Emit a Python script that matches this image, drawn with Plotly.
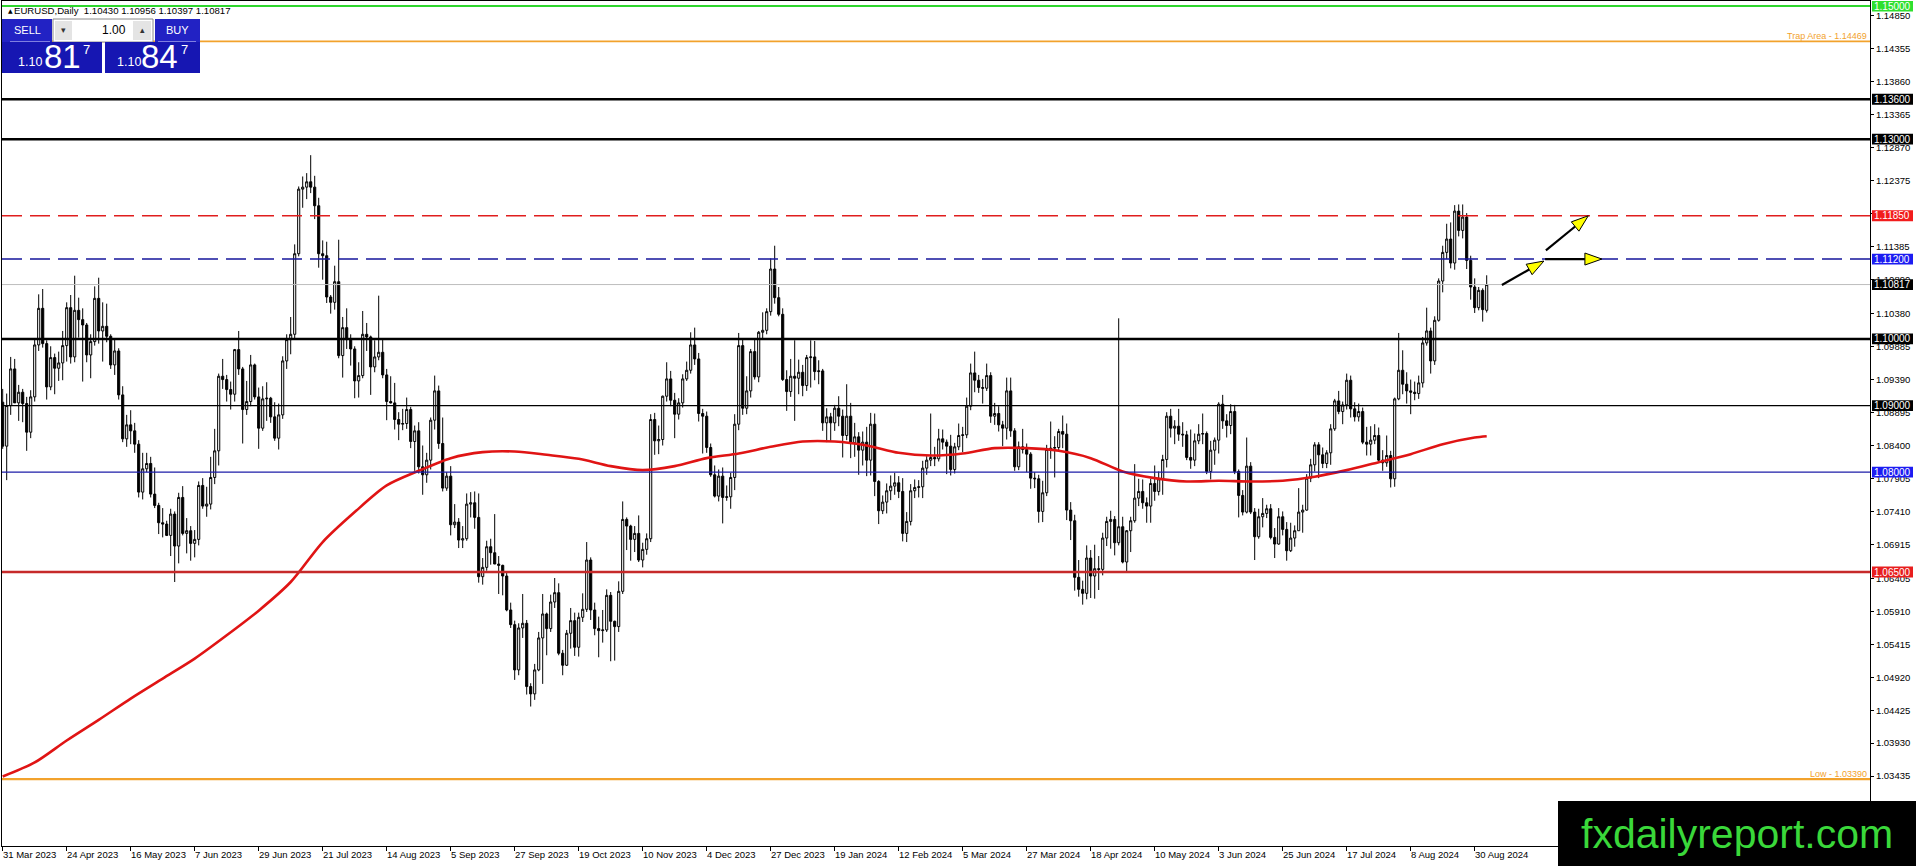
import plotly.graph_objects as go

# ---------------- data (prices in pips above 1.0000) ----------------
opens = [
    905, 839, 900, 955, 904, 920, 903, 860, 913, 991,
    1046, 993, 928, 972, 956, 964, 990, 1047, 973, 1043,
    1029, 1021, 976, 996, 1061, 1012, 1019, 1004, 961, 982,
    916, 850, 871, 862, 842, 770, 805, 813, 767, 750,
    724, 722, 705, 737, 689, 762, 708, 712, 693, 699,
    780, 749, 752, 792, 832, 944, 939, 924, 917, 984,
    955, 894, 906, 961, 913, 866, 910, 911, 883, 851,
    886, 967, 999, 1007, 1128, 1225, 1228, 1236, 1228, 1200,
    1128, 1125, 1063, 1055, 1086, 975, 1017, 999, 985, 937,
    945, 1007, 1003, 958, 973, 980, 946, 906, 904, 879,
    872, 873, 894, 846, 862, 808, 796, 818, 878, 922,
    843, 776, 794, 721, 725, 698, 700, 752, 754, 732,
    643, 657, 688, 679, 662, 660, 644, 593, 571, 503,
    566, 573, 478, 467, 503, 551, 587, 565, 605, 619,
    528, 510, 558, 577, 537, 582, 594, 668, 593, 565,
    562, 563, 615, 576, 568, 621, 729, 719, 699, 708,
    668, 684, 700, 879, 847, 849, 914, 940, 908, 887,
    904, 940, 953, 991, 970, 888, 884, 837, 796, 764,
    794, 762, 763, 792, 872, 990, 896, 922, 981, 943,
    1010, 1013, 1041, 1105, 1062, 1037, 939, 921, 944, 941,
    950, 930, 972, 973, 951, 952, 874, 883, 874, 896,
    884, 855, 884, 844, 853, 833, 845, 818, 872, 786,
    742, 755, 772, 779, 784, 771, 708, 726, 772, 777,
    778, 806, 818, 822, 820, 850, 845, 839, 804, 838,
    855, 856, 899, 949, 938, 927, 926, 945, 884, 888,
    871, 866, 922, 862, 808, 838, 834, 827, 791, 790,
    741, 769, 834, 836, 837, 861, 857, 743, 727, 642,
    624, 618, 671, 644, 655, 654, 701, 726, 729, 694,
    718, 665, 712, 727, 761, 771, 754, 749, 783, 771,
    790, 819, 884, 866, 869, 857, 856, 822, 818, 847,
    857, 858, 801, 833, 848, 902, 877, 870, 891, 801,
    765, 740, 809, 740, 703, 733, 738, 745, 702, 692,
    733, 714, 682, 701, 712, 740, 743, 791, 811, 841,
    826, 813, 829, 865, 907, 891, 901, 938, 895, 883,
    891, 845, 842, 848, 855, 818, 814, 825, 790, 910,
    953, 932, 922, 920, 918, 934, 994, 1012, 967, 1028,
    1087, 1130, 1150, 1114, 1192, 1163, 1183, 1118, 1078, 1047,
    1073, 1043.0,
]
highs = [
    925, 918, 973, 970, 931, 925, 913, 923, 999, 1067,
    1075, 998, 989, 978, 981, 1012, 1055, 1066, 1095, 1062,
    1046, 1024, 1007, 1079, 1092, 1055, 1053, 1007, 1000, 986,
    929, 886, 893, 874, 848, 829, 829, 823, 807, 754,
    746, 727, 745, 741, 769, 779, 731, 719, 713, 786,
    791, 778, 823, 865, 948, 970, 946, 936, 985, 1012,
    958, 937, 976, 963, 927, 929, 935, 913, 905, 903,
    974, 1007, 1033, 1142, 1229, 1244, 1249, 1276, 1245, 1212,
    1148, 1146, 1066, 1110, 1149, 1033, 1046, 1007, 989, 965,
    1042, 1024, 1005, 998, 1065, 1001, 955, 944, 934, 890,
    895, 912, 898, 870, 875, 840, 829, 882, 945, 930,
    882, 800, 809, 752, 731, 719, 768, 770, 771, 768,
    671, 697, 700, 737, 674, 661, 650, 604, 577, 573,
    617, 578, 483, 512, 560, 617, 589, 616, 641, 633,
    533, 563, 596, 589, 589, 618, 695, 672, 604, 583,
    593, 624, 620, 577, 636, 756, 732, 721, 719, 735,
    694, 708, 887, 889, 870, 915, 965, 952, 919, 911,
    947, 966, 1010, 1017, 979, 895, 891, 843, 810, 804,
    807, 780, 799, 887, 1009, 1001, 944, 985, 1001, 1012,
    1040, 1046, 1121, 1140, 1078, 1046, 953, 970, 998, 969,
    961, 976, 998, 997, 968, 955, 896, 889, 901, 914,
    894, 932, 904, 874, 860, 861, 868, 889, 888, 788,
    765, 783, 795, 799, 794, 791, 740, 782, 789, 788,
    817, 824, 888, 838, 865, 864, 849, 856, 844, 873,
    868, 912, 963, 981, 946, 940, 963, 950, 904, 899,
    877, 942, 942, 866, 846, 865, 843, 830, 800, 796,
    787, 841, 876, 854, 865, 885, 873, 755, 736, 668,
    637, 690, 683, 691, 674, 709, 733, 742, 734, 1031,
    733, 713, 733, 812, 790, 789, 762, 790, 810, 801,
    826, 890, 895, 878, 895, 875, 862, 864, 858, 872,
    888, 861, 847, 852, 905, 916, 887, 902, 901, 804,
    773, 852, 815, 746, 745, 761, 751, 752, 716, 746,
    741, 725, 724, 720, 776, 751, 797, 820, 845, 845,
    837, 833, 872, 910, 922, 906, 948, 945, 905, 903,
    897, 868, 869, 872, 867, 833, 855, 832, 912, 1009,
    983, 950, 939, 936, 945, 1003, 1047, 1017, 1034, 1091,
    1140, 1173, 1175, 1201, 1202, 1202, 1189, 1125, 1091, 1078,
    1076, 1095.6,
]
lows = [
    835, 788, 886, 906, 877, 875, 832, 851, 906, 982,
    987, 909, 923, 917, 937, 938, 966, 963, 965, 1002,
    936, 965, 941, 990, 993, 966, 995, 955, 946, 909,
    845, 838, 842, 829, 762, 759, 800, 762, 746, 707,
    702, 704, 674, 635, 663, 705, 678, 667, 672, 690,
    745, 733, 744, 782, 810, 925, 906, 894, 906, 946,
    843, 886, 899, 909, 835, 862, 877, 874, 847, 834,
    880, 955, 977, 1000, 1124, 1197, 1210, 1219, 1180, 1107,
    1089, 1054, 1038, 1044, 971, 942, 985, 960, 911, 912,
    941, 982, 916, 950, 968, 941, 878, 903, 864, 848,
    863, 865, 836, 802, 798, 766, 784, 804, 864, 835,
    771, 772, 705, 716, 686, 686, 697, 732, 715, 634,
    631, 652, 661, 662, 617, 615, 591, 566, 488, 495,
    551, 466, 448, 458, 501, 482, 525, 560, 596, 525,
    495, 509, 535, 524, 523, 575, 590, 578, 555, 522,
    544, 560, 516, 517, 560, 617, 683, 667, 680, 665,
    657, 676, 695, 826, 827, 840, 906, 899, 851, 879,
    897, 937, 948, 961, 876, 828, 829, 793, 762, 756,
    723, 757, 745, 773, 863, 886, 887, 912, 939, 935,
    1000, 1007, 1035, 1053, 1034, 937, 892, 913, 877, 917,
    914, 922, 927, 938, 932, 862, 845, 847, 862, 869,
    822, 848, 821, 823, 796, 810, 794, 795, 764, 722,
    737, 738, 758, 766, 761, 696, 695, 720, 761, 762,
    761, 796, 809, 809, 816, 834, 797, 795, 798, 833,
    830, 851, 893, 920, 919, 903, 922, 874, 871, 861,
    839, 849, 853, 802, 803, 828, 800, 775, 776, 724,
    725, 764, 820, 792, 833, 836, 728, 698, 622, 613,
    601, 609, 611, 610, 623, 645, 689, 685, 675, 690,
    663, 649, 680, 724, 749, 745, 724, 724, 757, 765,
    766, 807, 852, 842, 847, 838, 818, 805, 809, 842,
    842, 797, 789, 811, 828, 865, 852, 857, 797, 732,
    735, 738, 737, 668, 700, 717, 731, 699, 671, 691,
    705, 667, 680, 688, 712, 709, 742, 785, 801, 791,
    806, 806, 811, 862, 887, 872, 894, 882, 876, 876,
    842, 825, 825, 842, 815, 802, 808, 777, 778, 908,
    917, 903, 887, 908, 910, 927, 990, 948, 961, 1026,
    1070, 1120, 1106, 1104, 1154, 1151, 1105, 1059, 1039, 1043,
    1026, 1039.7,
]
closes = [
    839, 900, 955, 904, 920, 903, 860, 913, 991, 1046,
    993, 928, 972, 956, 964, 990, 1047, 973, 1043, 1029,
    1021, 976, 996, 1061, 1012, 1019, 1004, 961, 982, 916,
    850, 871, 862, 842, 770, 805, 813, 767, 750, 724,
    722, 705, 737, 689, 762, 708, 712, 693, 699, 780,
    749, 752, 792, 832, 944, 939, 924, 917, 984, 955,
    894, 906, 961, 913, 866, 910, 911, 883, 851, 886,
    967, 999, 1007, 1128, 1225, 1228, 1236, 1228, 1200, 1128,
    1125, 1063, 1055, 1086, 975, 1017, 999, 985, 937, 945,
    1007, 1003, 958, 973, 980, 946, 906, 904, 879, 872,
    873, 894, 846, 862, 808, 796, 818, 878, 922, 843,
    776, 794, 721, 725, 698, 700, 752, 754, 732, 643,
    657, 688, 679, 662, 660, 644, 593, 571, 503, 566,
    573, 478, 467, 503, 551, 587, 565, 605, 619, 528,
    510, 558, 577, 537, 582, 594, 668, 593, 565, 562,
    563, 615, 576, 568, 621, 729, 719, 699, 708, 668,
    684, 700, 879, 847, 849, 914, 940, 908, 887, 904,
    940, 953, 991, 970, 888, 884, 837, 796, 764, 794,
    762, 763, 792, 872, 990, 896, 922, 981, 943, 1010,
    1013, 1041, 1105, 1062, 1037, 939, 921, 944, 941, 950,
    930, 972, 973, 951, 952, 874, 883, 874, 896, 884,
    855, 884, 844, 853, 833, 845, 818, 872, 786, 742,
    755, 772, 779, 784, 771, 708, 726, 772, 777, 778,
    806, 818, 822, 820, 850, 845, 839, 804, 838, 855,
    856, 899, 949, 938, 927, 926, 945, 884, 888, 871,
    866, 922, 862, 808, 838, 834, 827, 791, 790, 741,
    769, 834, 836, 837, 861, 857, 743, 727, 642, 624,
    618, 671, 644, 655, 654, 701, 726, 729, 694, 718,
    665, 712, 727, 761, 771, 754, 749, 783, 771, 790,
    819, 884, 866, 869, 857, 856, 822, 818, 847, 857,
    858, 801, 833, 848, 902, 877, 870, 891, 801, 765,
    740, 809, 740, 703, 733, 738, 745, 702, 692, 733,
    714, 682, 701, 712, 740, 743, 791, 811, 841, 826,
    813, 829, 865, 907, 891, 901, 938, 895, 883, 891,
    845, 842, 848, 855, 818, 814, 825, 790, 910, 953,
    932, 922, 920, 918, 934, 994, 1012, 967, 1028, 1087,
    1130, 1150, 1114, 1192, 1163, 1183, 1118, 1078, 1047, 1073,
    1044, 1081.7,
]

# 200-day moving average (bar index, price)
ma_index = [0, 8, 16, 24, 32, 40, 48, 56, 64, 72, 80, 88, 96, 104, 112, 120,
            128, 136, 144, 152, 160, 168, 176, 184, 192, 200, 208, 216, 224,
            232, 240, 248, 256, 264, 272, 280, 288, 296, 304, 312, 320, 328,
            336, 344, 352, 360, 368, 371]
ma_values = [1.0343, 1.0364, 1.0397, 1.0428, 1.0460, 1.0490, 1.0520, 1.0555,
             1.0592, 1.0635, 1.0695, 1.0740, 1.0780, 1.0802, 1.0821, 1.0830,
             1.0831, 1.0826, 1.0820, 1.0809, 1.0803, 1.0809, 1.0821, 1.0828,
             1.0838, 1.0846, 1.0846, 1.0840, 1.0829, 1.0825, 1.0828, 1.0836,
             1.0836, 1.0832, 1.0821, 1.0801, 1.0791, 1.0786, 1.0787, 1.0786,
             1.0787, 1.0793, 1.0803, 1.0815, 1.0827, 1.0842, 1.0852, 1.0854]

date_ticks = [0, 16, 32, 48, 64, 80, 96, 112, 128, 144, 160, 176, 192, 208,
              224, 240, 256, 272, 288, 304, 320, 336, 352, 368]
date_labels = ["31 Mar 2023", "24 Apr 2023", "16 May 2023", "7 Jun 2023",
               "29 Jun 2023", "21 Jul 2023", "14 Aug 2023", "5 Sep 2023",
               "27 Sep 2023", "19 Oct 2023", "10 Nov 2023", "4 Dec 2023",
               "27 Dec 2023", "19 Jan 2024", "12 Feb 2024", "5 Mar 2024",
               "27 Mar 2024", "18 Apr 2024", "10 May 2024", "3 Jun 2024",
               "25 Jun 2024", "17 Jul 2024", "8 Aug 2024", "30 Aug 2024"]

price_ticks = [1.14850, 1.14355, 1.13860, 1.13365, 1.12870, 1.12375, 1.11880,
               1.11385, 1.10890, 1.10380, 1.09885, 1.09390, 1.08895, 1.08400,
               1.07905, 1.07410, 1.06915, 1.06405, 1.05910, 1.05415, 1.04920,
               1.04425, 1.03930, 1.03435]
# tick labels fully covered by level boxes in the reference are left blank
hidden_ticks = [1.11880]

level_prices = [1.15000, 1.14469, 1.13600, 1.13000, 1.11850, 1.11200, 1.10817,
                1.10000, 1.09000, 1.08000, 1.06500, 1.03390]
level_colors = ["#2ed62e", "#f2a22c", "#000000", "#000000", "#e01e1e", "#16169c",
                "#bdbdbd", "#000000", "#000000", "#1c1ca8", "#c62a2a", "#f2a22c"]
level_widths = [2.2, 1.8, 2.4, 2.4, 1.5, 1.5, 1.0, 2.4, 1.3, 1.3, 2.6, 2.2]
level_dashes = ["solid", "solid", "solid", "solid", "20px,8px", "20px,8px",
                "solid", "solid", "solid", "solid", "solid", "solid"]
box_colors = ["#2ee02e", None, "#000000", "#000000", "#f21c1c", "#1c1cf2",
              "#000000", "#000000", "#000000", "#1c1cf2", "#e81e1e", None]
level_notes = [None, "Trap Area - 1.14469", None, None, None, None, None, None,
               None, None, None, "Low - 1.03390"]

# arrows drawn on the chart: start (bar, price) -> tip (bar, price)
arrow_x0 = [374.8, 385.8, 385.6]
arrow_y0 = [1.1081, 1.1133, 1.1120]
arrow_x1 = [385.3, 396.4, 399.8]
arrow_y1 = [1.1117, 1.1185, 1.1120]

header_text = "EURUSD,Daily  1.10430 1.10956 1.10397 1.10817"

# ---------------- layout geometry ----------------
W, H = 1916, 866
PLOT_L, PLOT_R, PLOT_T, PLOT_B = 2, 1870, 1, 846
X_RANGE = [-0.175, 466.825]
Y_RANGE = [1.023856, 1.150751]
PX_BAR = (PLOT_R - PLOT_L) / (X_RANGE[1] - X_RANGE[0])
PX_PRICE = (PLOT_B - PLOT_T) / (Y_RANGE[1] - Y_RANGE[0])
FONT = "Liberation Sans"


def fx(px):
    return (px - PLOT_L) / (PLOT_R - PLOT_L)


def fy(py):
    return (PLOT_B - py) / (PLOT_B - PLOT_T)


def price(v):
    return 1.0 + v / 10000.0


fig = go.Figure()

xs = list(range(len(closes)))
fig.add_trace(go.Candlestick(
    x=xs,
    open=[price(v) for v in opens],
    high=[price(v) for v in highs],
    low=[price(v) for v in lows],
    close=[price(v) for v in closes],
    increasing=dict(line=dict(color="black", width=1), fillcolor="white"),
    decreasing=dict(line=dict(color="black", width=1), fillcolor="black"),
    whiskerwidth=0,
    hoverinfo="skip",
    showlegend=False,
))

fig.add_trace(go.Scatter(
    x=ma_index, y=ma_values, mode="lines",
    line=dict(color="#e01414", width=2.6, shape="spline", smoothing=0.8),
    hoverinfo="skip", showlegend=False,
))

shapes = []
annotations = []

# horizontal levels
for p, c, w, d, bc, note in zip(level_prices, level_colors, level_widths,
                                level_dashes, box_colors, level_notes):
    shapes.append(dict(type="line", xref="paper", x0=0, x1=1, yref="y", y0=p, y1=p,
                       line=dict(color=c, width=w, dash=d), layer="above"))
    if bc is not None:
        half = 5.4 / PX_PRICE
        shapes.append(dict(type="rect", xref="paper", x0=fx(1872), x1=fx(1913),
                           yref="y", y0=p - half, y1=p + half,
                           fillcolor=bc, line=dict(width=0), layer="above"))
        annotations.append(dict(xref="paper", x=fx(1892.5), yref="y", y=p,
                                text=f"{p:.5f}", showarrow=False,
                                xanchor="center", yanchor="middle",
                                font=dict(family=FONT, size=10, color="white")))
    if note is not None:
        annotations.append(dict(xref="paper", x=fx(1869), yref="y", y=p,
                                text=note, showarrow=False, xanchor="right",
                                yanchor="bottom", yshift=-2,
                                font=dict(family=FONT, size=9, color=c)))

# arrows (black shaft + yellow head)
for sx, sy, tx, ty in zip(arrow_x0, arrow_y0, arrow_x1, arrow_y1):
    X0, Y0 = sx * PX_BAR, sy * PX_PRICE
    X1, Y1 = tx * PX_BAR, ty * PX_PRICE
    dx, dy = X1 - X0, Y1 - Y0
    n = (dx * dx + dy * dy) ** 0.5
    ux, uy = dx / n, dy / n
    L, hw = 17.0, 6.0
    bx, by = X1 - L * ux, Y1 - L * uy
    nx, ny = -uy, ux
    pts = [(X1, Y1), (bx + hw * nx, by + hw * ny), (bx - hw * nx, by - hw * ny)]
    shapes.append(dict(type="line", xref="x", yref="y",
                       x0=sx, y0=sy, x1=bx / PX_BAR, y1=by / PX_PRICE,
                       line=dict(color="black", width=2.2), layer="above"))
    path = "M " + " L ".join(f"{X / PX_BAR:.4f},{Y / PX_PRICE:.6f}" for X, Y in pts) + " Z"
    shapes.append(dict(type="path", xref="x", yref="y", path=path,
                       fillcolor="#ffff00", line=dict(color="black", width=1),
                       layer="above"))

# date labels (left-aligned at tick, MT4 style)
for t, lab in zip(date_ticks, date_labels):
    annotations.append(dict(xref="x", x=t, yref="paper", y=0, text=lab,
                            showarrow=False, xanchor="left", yanchor="top",
                            xshift=-2, yshift=-1,
                            font=dict(family=FONT, size=9.5, color="black")))

# header: small triangle + symbol / OHLC text
annotations.append(dict(xref="paper", x=fx(6), yref="paper", y=fy(10.5),
                        text="\u25b2", showarrow=False, xanchor="left",
                        yanchor="middle",
                        font=dict(family="DejaVu Sans", size=6, color="black")))
annotations.append(dict(xref="paper", x=fx(12), yref="paper", y=fy(10.5),
                        text=header_text, showarrow=False, xanchor="left",
                        yanchor="middle",
                        font=dict(family=FONT, size=9.6, color="black")))

# one-click trading panel
BLUE_BTN = "#2222c4"
BLUE_BOX = "#1616b2"


def rect_px(x0, y0, x1, y1, fill, line_color=None, lw=0):
    shapes.append(dict(type="rect", xref="paper", yref="paper",
                       x0=fx(x0), x1=fx(x1), y0=fy(y1), y1=fy(y0),
                       fillcolor=fill,
                       line=dict(color=line_color or fill, width=lw),
                       layer="above"))


def text_px(x, y, s, size, color="white", xanchor="center"):
    annotations.append(dict(xref="paper", yref="paper", x=fx(x), y=fy(y),
                            text=s, showarrow=False, xanchor=xanchor,
                            yanchor="middle",
                            font=dict(family=FONT, size=size, color=color)))


rect_px(2, 19, 52, 42, BLUE_BTN)
text_px(27, 30.5, "SELL", 11)
rect_px(53, 19, 153, 42, "white", "#8a8a8a", 1)
rect_px(55, 21, 72, 40, "#e4e4e4")
text_px(63.5, 30.5, "\u25be", 9, "#333333")
text_px(128, 30.5, "1.00", 12, "black", "right")
rect_px(133, 21, 151, 40, "#e4e4e4")
text_px(142, 30.5, "\u25b4", 9, "#333333")
rect_px(155, 19, 200, 42, BLUE_BTN)
text_px(177.5, 30.5, "BUY", 11)
rect_px(2, 42, 102, 73, BLUE_BOX)
rect_px(105, 42, 200, 73, BLUE_BOX)
shapes.append(dict(type="line", xref="paper", yref="paper", x0=fx(10), x1=fx(50),
                   y0=fy(41.5), y1=fy(41.5), line=dict(color="#7f7fe0", width=1),
                   layer="above"))
shapes.append(dict(type="line", xref="paper", yref="paper", x0=fx(158), x1=fx(196),
                   y0=fy(41.5), y1=fy(41.5), line=dict(color="#7f7fe0", width=1),
                   layer="above"))
text_px(30, 62, "1.10", 12.5)
text_px(63, 56, "81", 33)
text_px(86, 49, "7", 13)
text_px(129, 62, "1.10", 12.5)
text_px(159, 56, "84", 33)
text_px(184, 49, "7", 13)

# watermark box
shapes.append(dict(type="rect", xref="paper", yref="paper",
                   x0=fx(1558), x1=fx(1918), y0=fy(868), y1=fy(801),
                   fillcolor="black", line=dict(width=0), layer="above"))
annotations.append(dict(xref="paper", yref="paper", x=fx(1737), y=fy(834),
                        text="fxdailyreport.com", showarrow=False,
                        xanchor="center", yanchor="middle",
                        font=dict(family=FONT, size=41, color="#3ad83a")))

fig.update_layout(
    width=W, height=H,
    margin=dict(l=PLOT_L, r=W - PLOT_R, t=PLOT_T, b=H - PLOT_B, pad=0),
    paper_bgcolor="white", plot_bgcolor="white",
    showlegend=False, hovermode=False,
    boxgap=0.25,
    shapes=shapes, annotations=annotations,
    xaxis=dict(range=X_RANGE, tickvals=date_ticks, ticks="outside", ticklen=4,
               tickcolor="black", showticklabels=False, showline=True,
               linecolor="black", linewidth=1, mirror=True, showgrid=False,
               zeroline=False, rangeslider=dict(visible=False), fixedrange=True),
    yaxis=dict(side="right", range=Y_RANGE, tickvals=price_ticks,
               ticktext=["" if v in hidden_ticks else f"{v:.5f}" for v in price_ticks],
               ticks="outside",
               ticklen=3, tickcolor="black", showline=True, linecolor="black",
               linewidth=1, mirror=True, showgrid=False, zeroline=False,
               tickfont=dict(family=FONT, size=9.5, color="black"),
               fixedrange=True),
)

fig.write_html(
    "out.html",
    config={"displayModeBar": False, "staticPlot": True},
    post_script="document.body.style.margin='0';document.body.style.padding='0';"
                "document.body.style.overflow='hidden';"
                "document.documentElement.style.overflow='hidden';",
)
